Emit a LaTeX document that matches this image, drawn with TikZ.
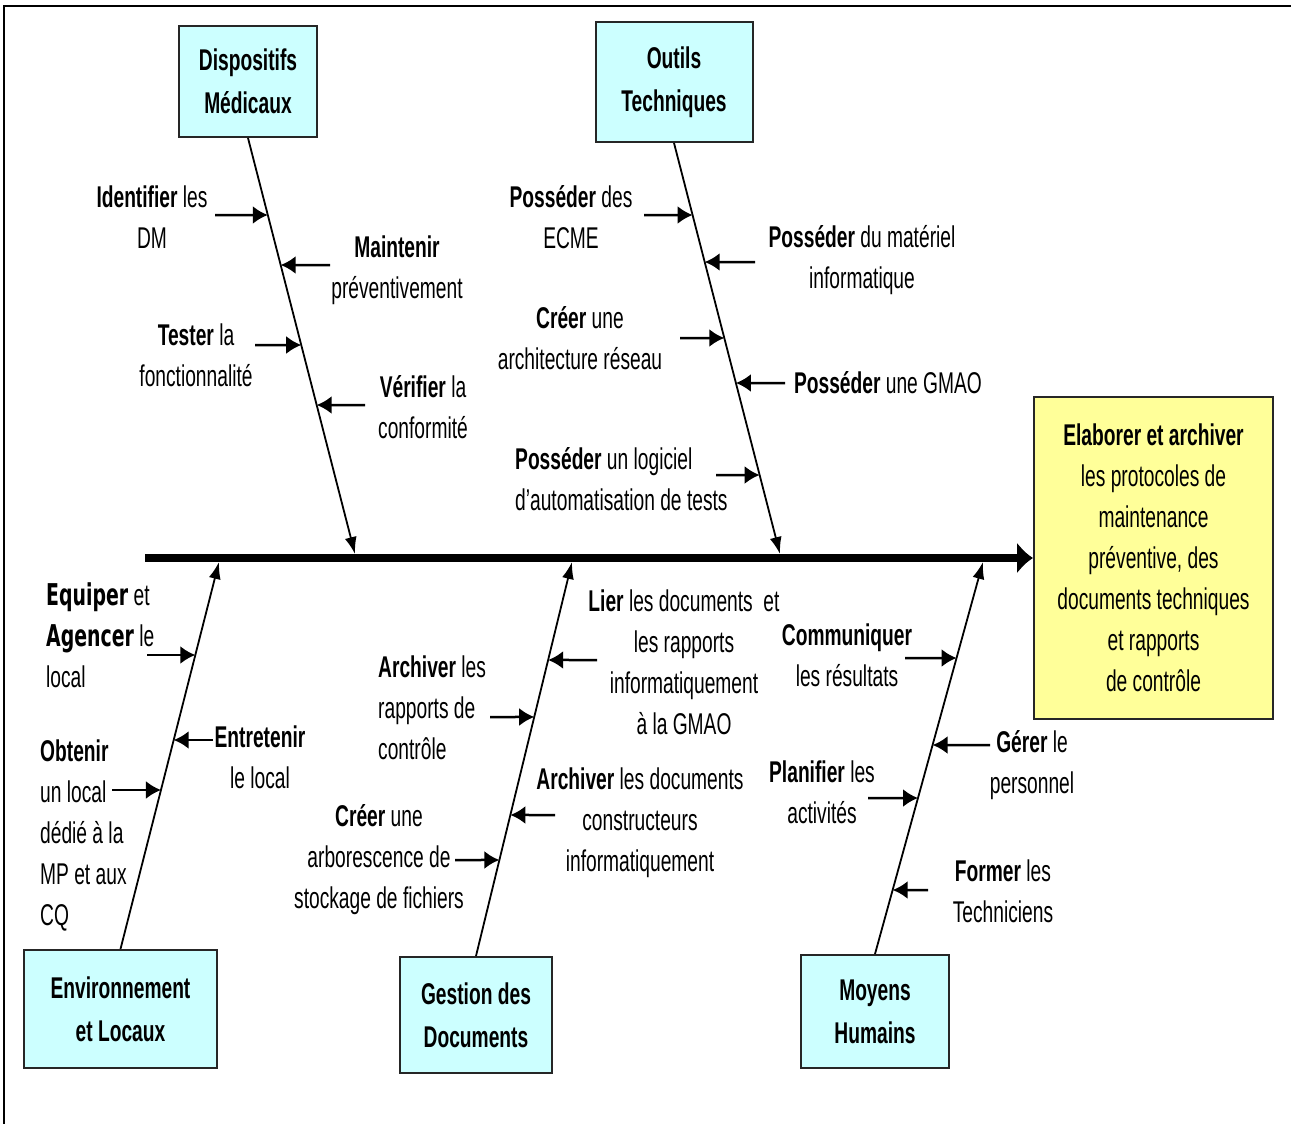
\documentclass[tikz,border=0pt]{standalone}
\usepackage{fontspec}
\setmainfont{Liberation Sans}[FakeStretch=0.64]
\newfontfamily\verdb{DejaVu Sans}[FakeStretch=0.63]
\usetikzlibrary{arrows.meta}
\definecolor{causefill}{HTML}{CCFFFF}
\definecolor{effectfill}{HTML}{FFFF99}
\tikzset{
  lbl/.style={inner sep=0pt, align=center, font=\fontsize{30}{41}\selectfont},
  causebox/.style={draw=black!85, line width=2pt, fill=causefill, inner sep=0pt,
    align=center, font=\fontsize{30}{43}\selectfont\bfseries},
  effectbox/.style={draw=black!85, line width=2pt, fill=effectfill, inner sep=0pt,
    align=center, font=\fontsize{30}{41}\selectfont},
  bone/.style={line width=1.8pt, -{Latex[length=17pt,width=12pt]}},
  subarrow/.style={line width=2.5pt, -{Latex[length=15pt,width=18pt]}},
  spine/.style={line width=8pt, -{Latex[length=16pt,width=32pt]}}
}
% #1 name, #2/#3 ends of the bone, #4 height, #5 x of the tail
\newcommand\spoke[5]{%
  \coordinate (#1-s) at (#5,#4);
  \coordinate (#1-e) at (intersection of #2--#3 and 0,#4--1000,#4);
  \draw[subarrow] (#1-s) -- (#1-e);}
\begin{document}
\begin{tikzpicture}[x=1pt,y=-1pt]
\useasboundingbox (0,0) rectangle (1291,1124);
% page frame
\draw[line width=2pt] (4,1124) -- (4,6) -- (1291,6);

% effect and spine
\node[effectbox, minimum width=239pt, minimum height=322pt] (effect) at (1153.5,558)
  {\textbf{Elaborer et archiver}\\les protocoles de\\maintenance\\préventive, des\\documents techniques\\et rapports\\de contrôle};
\coordinate (spineL) at (145,558);
\draw[spine] (spineL) -- (effect.west);

% cause boxes
\node[causebox, minimum width=138pt, minimum height=111pt] (dm) at (248,81.5) {Dispositifs\\Médicaux};
\node[causebox, minimum width=157pt, minimum height=120pt] (ot) at (674,82) {Outils\\Techniques};
\node[causebox, minimum width=193pt, minimum height=118pt] (env) at (120.5,1009) {Environnement\\et Locaux};
\node[causebox, minimum width=152pt, minimum height=116pt] (gd) at (476,1015) {Gestion des\\Documents};
\node[causebox, minimum width=148pt, minimum height=113pt] (mh) at (875,1011.5) {Moyens\\Humains};

% bones
\coordinate (dmT) at (355,554);
\coordinate (otT) at (780,554);
\coordinate (envT) at (219,562);
\coordinate (gdT) at (572,562);
\coordinate (mhT) at (983,562);
\coordinate (dmS) at (dm.south);
\coordinate (otS) at (ot.south);
\coordinate (envS) at (env.north);
\coordinate (gdS) at (gd.north);
\coordinate (mhS) at (mh.north);
\draw[bone] (dm.south) -- (dmT);
\draw[bone] (ot.south) -- (otT);
\draw[bone] (env.north) -- (envT);
\draw[bone] (gd.north) -- (gdT);
\draw[bone] (mh.north) -- (mhT);

% Dispositifs Medicaux
\node[lbl] (dm1) at (152,217) {\textbf{Identifier} les\\DM};
\node[lbl] (dm2) at (397,270) {\textbf{Maintenir}\\préventivement};
\node[lbl] (dm3) at (196,355) {\textbf{Tester} la\\fonctionnalité};
\node[lbl] (dm4) at (423,407) {\textbf{Vérifier} la\\conformité};
\spoke{a1}{dmS}{dmT}{215}{215}
\spoke{a2}{dmS}{dmT}{265}{330}
\spoke{a3}{dmS}{dmT}{345}{255}
\spoke{a4}{dmS}{dmT}{405}{365}

% Outils Techniques
\node[lbl] (ot1) at (571,217) {\textbf{Posséder} des\\ECME};
\node[lbl] (ot2) at (862,260) {\textbf{Posséder} du matériel\\informatique};
\node[lbl] (ot3) at (580,338) {\textbf{Créer} une\\architecture réseau};
\node[lbl] (ot4) at (888,383) {\textbf{Posséder} une GMAO};
\node[lbl, align=left, anchor=west] (ot5) at (515,479) {\textbf{Posséder} un logiciel\\d'automatisation de tests};
\spoke{b1}{otS}{otT}{215}{644}
\spoke{b2}{otS}{otT}{262}{755}
\spoke{b3}{otS}{otT}{338}{680}
\spoke{b4}{otS}{otT}{383}{785}
\spoke{b5}{otS}{otT}{475}{716}

% Environnement et Locaux
\node[lbl, align=left, anchor=west] (env1) at (46,635) {{\verdb\bfseries Equiper} et\\{\verdb\bfseries Agencer} le\\local};
\node[lbl] (env2) at (260,757) {\textbf{Entretenir}\\le local};
\node[lbl, align=left, anchor=west] (env3) at (40,835) {\textbf{Obtenir}\\un local\\dédié à la\\MP et aux\\CQ};
\spoke{c1}{envS}{envT}{655}{147}
\spoke{c2}{envS}{envT}{740}{213}
\spoke{c3}{envS}{envT}{790}{112}

% Gestion des Documents
\node[lbl, align=left, anchor=west] (gd1) at (378,708) {\textbf{Archiver} les\\rapports de\\contrôle};
\node[lbl] (gd2) at (684,662) {\textbf{Lier} les documents~ et\\les rapports\\informatiquement\\à la GMAO};
\node[lbl] (gd3) at (379,860) {\textbf{Créer} une\\arborescence de\\stockage de fichiers};
\node[lbl] (gd4) at (640,823) {\textbf{Archiver} les documents\\constructeurs\\informatiquement};
\spoke{d1}{gdS}{gdT}{717}{490}
\spoke{d2}{gdS}{gdT}{660}{597}
\spoke{d3}{gdS}{gdT}{860}{455}
\spoke{d4}{gdS}{gdT}{815}{555}

% Moyens Humains
\node[lbl] (mh1) at (847,655) {\textbf{Communiquer}\\les résultats};
\node[lbl] (mh2) at (1032,765) {\textbf{Gérer} le\\personnel};
\node[lbl] (mh3) at (822,792) {\textbf{Planifier} les\\activités};
\node[lbl] (mh4) at (1003,891) {\textbf{Former} les\\Techniciens};
\spoke{e1}{mhS}{mhT}{658}{905}
\spoke{e2}{mhS}{mhT}{745}{990}
\spoke{e3}{mhS}{mhT}{798}{868}
\spoke{e4}{mhS}{mhT}{890}{928}
\end{tikzpicture}
\end{document}
